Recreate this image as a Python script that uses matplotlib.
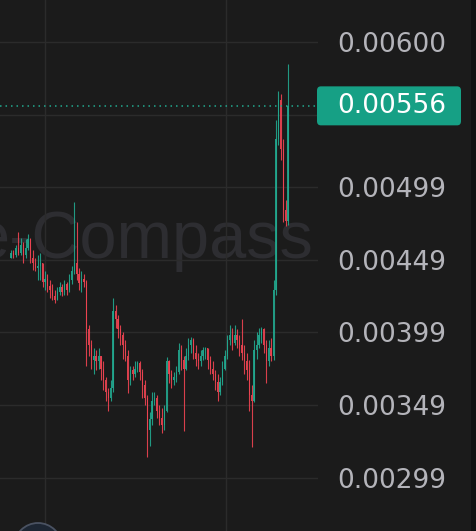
import numpy as np
import matplotlib
matplotlib.use("Agg")
import matplotlib.pyplot as plt
from matplotlib.patches import FancyBboxPatch, Rectangle, Ellipse
from matplotlib.transforms import blended_transform_factory

# prices in units of 1e-5
first_open = 451
closes = [455, 453, 458, 455, 460, 453, 458, 464, 451, 448,
          444, 446, 448, 435, 437, 432, 429, 425, 422, 428,
          431, 428, 433, 429, 436, 442, 448, 440, 434, 437,
          435, 402, 391, 381, 384, 380, 384, 375, 367, 359,
          355, 362, 415, 409, 402, 398, 391, 384, 367, 374,
          371, 375, 379, 373, 364, 355, 333, 340, 353, 355,
          346, 341, 336, 346, 380, 371, 367, 369, 373, 388,
          381, 375, 384, 391, 395, 386, 382, 380, 384, 388,
          389, 381, 375, 371, 366, 359, 366, 375, 384, 395,
          398, 393, 398, 395, 391, 386, 380, 374, 357, 353,
          388, 391, 398, 402, 391, 380, 389, 384, 429, 533,
          560, 526, 484, 477, 556]
highs = [457, 457, 460, 469, 465, 462, 464, 468, 465, 457,
         451, 453, 455, 448, 442, 440, 436, 433, 429, 431,
         435, 433, 436, 435, 440, 446, 490, 476, 444, 442,
         440, 436, 405, 395, 389, 388, 389, 384, 380, 369,
         362, 367, 424, 419, 412, 405, 400, 395, 388, 377,
         377, 380, 380, 380, 375, 367, 357, 345, 359, 359,
         357, 350, 348, 350, 383, 381, 374, 373, 377, 393,
         391, 384, 389, 396, 397, 396, 391, 386, 388, 390,
         390, 389, 384, 380, 374, 371, 369, 380, 388, 398,
         405, 403, 405, 402, 398, 409, 391, 386, 381, 364,
         395, 400, 403, 404, 403, 395, 395, 396, 436, 546,
         566, 564, 533, 491, 585]
lows = [451, 451, 452, 453, 453, 448, 451, 457, 448, 443,
        442, 436, 436, 431, 429, 428, 424, 422, 420, 422,
        426, 425, 426, 426, 428, 433, 440, 436, 429, 428,
        431, 377, 384, 375, 371, 374, 375, 367, 360, 353,
        346, 353, 359, 403, 396, 391, 382, 380, 358, 364,
        367, 369, 373, 367, 355, 350, 314, 322, 336, 350,
        341, 336, 331, 333, 345, 365, 362, 364, 366, 371,
        374, 332, 374, 381, 386, 382, 377, 375, 377, 381,
        382, 375, 371, 367, 360, 353, 357, 364, 374, 382,
        391, 388, 391, 389, 384, 381, 371, 367, 346, 321,
        352, 382, 389, 393, 386, 365, 377, 380, 381, 426,
        529, 519, 476, 473, 474]

tick_vals = [0.00600, 0.00550, 0.00500, 0.00450, 0.00400, 0.00350, 0.00300]
tick_labels = ["0.00600", "0.00550", "0.00499", "0.00449", "0.00399", "0.00349", "0.00299"]
last_label = "0.00556"
watermark = "e-Compass"

bg = "#1b1b1b"
grid_c = "#2b2b2b"
up_c = "#22a88f"
down_c = "#ef4452"
W, H = 477, 531

c = np.array(closes) * 1e-5
h = np.array(highs) * 1e-5
l = np.array(lows) * 1e-5
o = np.concatenate([[first_open * 1e-5], c[:-1]])
x = np.arange(len(c))
cols = np.where(c >= o, up_c, down_c)

fig = plt.figure(figsize=(W / 100, H / 100), dpi=100, facecolor=bg)
ax = fig.add_axes([0, 0, 318 / W, 1])
ax.set_facecolor(bg)
ylo, yhi = 0.002632, 0.006289
ax.set_ylim(ylo, yhi)
ax.set_xlim(-4.53, 126.3)

# grid
ax.set_yticks(tick_vals)
ax.set_yticklabels(tick_labels)
ax.set_xticks([14.0, 88.5])
ax.set_xticklabels([])
ax.grid(True, color=grid_c, lw=1)
ax.set_axisbelow(True)
for s in ax.spines.values():
    s.set_visible(False)
ax.yaxis.tick_right()
ax.tick_params(axis="y", length=0, pad=13.7, labelsize=19, labelcolor="#b4b4ba")
ax.tick_params(axis="x", length=0)

# watermark
tr = blended_transform_factory(ax.transAxes, ax.transData)
ax.text(313 / 318, 0.004512, watermark, transform=tr, ha="right", va="baseline",
        fontsize=48, family="Liberation Sans", color="#2d2d31", zorder=0.5)

# candles
ax.vlines(x, l, h, colors=cols, lw=0.8, alpha=0.9, zorder=2)
body = np.where(np.abs(c - o) < 1e-6, 1.5e-6, c - o)
ax.bar(x, body, bottom=o, width=0.5, color=cols, alpha=0.9, lw=0, zorder=3)

# last price line
ax.axhline(c[-1], color=up_c, lw=1.1, ls=(0, (1, 2.6)), zorder=4)

# last price label box
yf = (c[-1] - ylo) / (yhi - ylo)
bh = 39 / H
box = FancyBboxPatch((317 / W, yf - bh / 2), 144 / W, bh, boxstyle="round,pad=0,rounding_size=0.008",
                     transform=fig.transFigure, fc="#16a085", ec="none", zorder=5)
fig.add_artist(box)
fig.text(337 / W, yf, last_label, ha="left", va="center", fontsize=19, color="white", zorder=6)

# right strip and logo circle
fig.add_artist(Rectangle((471 / W, 0), 6 / W, 1, transform=fig.transFigure, fc="#111111", ec="none"))
fig.add_artist(Ellipse((38 / W, -16 / H), 48 / W, 48 / H, transform=fig.transFigure,
                       fc="#1d2633", ec="#4a5262", lw=1.3))

fig.savefig("out.png", dpi=100, facecolor=bg)
